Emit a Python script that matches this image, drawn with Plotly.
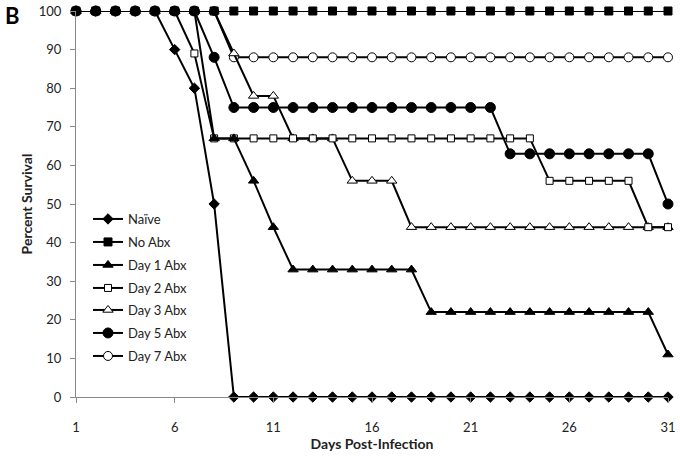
import plotly.graph_objects as go

days = list(range(1, 32))

naive = [100, 100, 100, 100, 100, 90, 80, 50] + [0] * 23
no_abx = [100] * 31
day1 = [100] * 7 + [67, 67, 56, 44] + [33] * 7 + [22] * 12 + [11]
day2 = [100] * 6 + [89] + [67] * 17 + [56] * 5 + [44, 44]
day3 = [100] * 8 + [89, 78, 78, 67, 67, 67, 56, 56, 56] + [44] * 14
day5 = [100] * 7 + [88] + [75] * 14 + [63] * 8 + [50]
day7 = [100] * 8 + [88] * 23

series_names = ["Naïve", "No Abx", "Day 1 Abx", "Day 2 Abx", "Day 3 Abx", "Day 5 Abx", "Day 7 Abx"]
series_vals = [naive, no_abx, day1, day2, day3, day5, day7]
symbols = ["diamond", "square", "triangle-up", "square", "triangle-up", "circle", "circle"]
fills = ["black", "black", "black", "white", "white", "black", "white"]
sizes = [8, 8, 9, 7, 9, 10, 9]

# legend entry pixel centres (y, from top of page)
legend_y_px = [219, 242, 265, 288, 310, 333, 356]

L, R, T, B = 76, 12, 11, 62
W, H = 680, 459
pw, ph = W - L - R, H - T - B

fig = go.Figure()
layout_legends = {}
# draw in reverse so the first series sits on top
for i in reversed(range(len(series_names))):
    lname = "legend" if i == 0 else f"legend{i+1}"
    fig.add_trace(go.Scatter(
        x=days, y=series_vals[i], name=series_names[i],
        mode="lines+markers",
        line=dict(color="black", width=2),
        marker=dict(symbol=symbols[i], size=sizes[i], color=fills[i],
                    line=dict(color="black", width=1)),
        cliponaxis=False,
        legend=lname,
    ))
    layout_legends[lname] = dict(
        x=(88 - L) / pw, xanchor="left",
        y=(H - B - legend_y_px[i]) / ph, yanchor="middle",
        bgcolor="rgba(0,0,0,0)",
        font=dict(family="Lato, Open Sans, sans-serif", size=13, color="#222"),
        itemsizing="trace",
        itemwidth=30,
    )

fig.update_layout(
    width=W, height=H,
    margin=dict(l=L, r=R, t=T, b=B, autoexpand=False),
    plot_bgcolor="white", paper_bgcolor="white",
    font=dict(family="Lato, Open Sans, sans-serif", color="#222"),
    showlegend=True,
    **layout_legends,
)

fig.update_xaxes(
    range=[1, 31], tickvals=[1, 6, 11, 16, 21, 26, 31],
    showgrid=False, zeroline=False, automargin=False,
    showline=True, linecolor="#888", linewidth=1,
    ticks="outside", ticklen=5, tickcolor="#888",
    tickfont=dict(size=13), ticklabelstandoff=13,
    title=dict(text="<b>Days Post-Infection</b>", font=dict(size=14), standoff=1),
)
fig.update_yaxes(
    range=[0, 100], tickvals=list(range(0, 101, 10)),
    showgrid=False, zeroline=False, automargin=False,
    showline=True, linecolor="#888", linewidth=1,
    ticks="outside", ticklen=5, tickcolor="#888",
    tickfont=dict(size=13), ticklabelstandoff=6,
    title=dict(text="<b>Percent Survival</b>", font=dict(size=14), standoff=2),
)

fig.add_annotation(
    text="<b>B</b>", xref="paper", yref="paper",
    x=(3 - L) / pw, y=(H - B - 0) / ph, xanchor="left", yanchor="top",
    showarrow=False, font=dict(size=22, family="Lato, Open Sans, sans-serif", color="black"),
)

fig.write_html("out.html",
               config={"displayModeBar": False},
               post_script="document.body.style.margin='0';document.body.style.padding='0';")
